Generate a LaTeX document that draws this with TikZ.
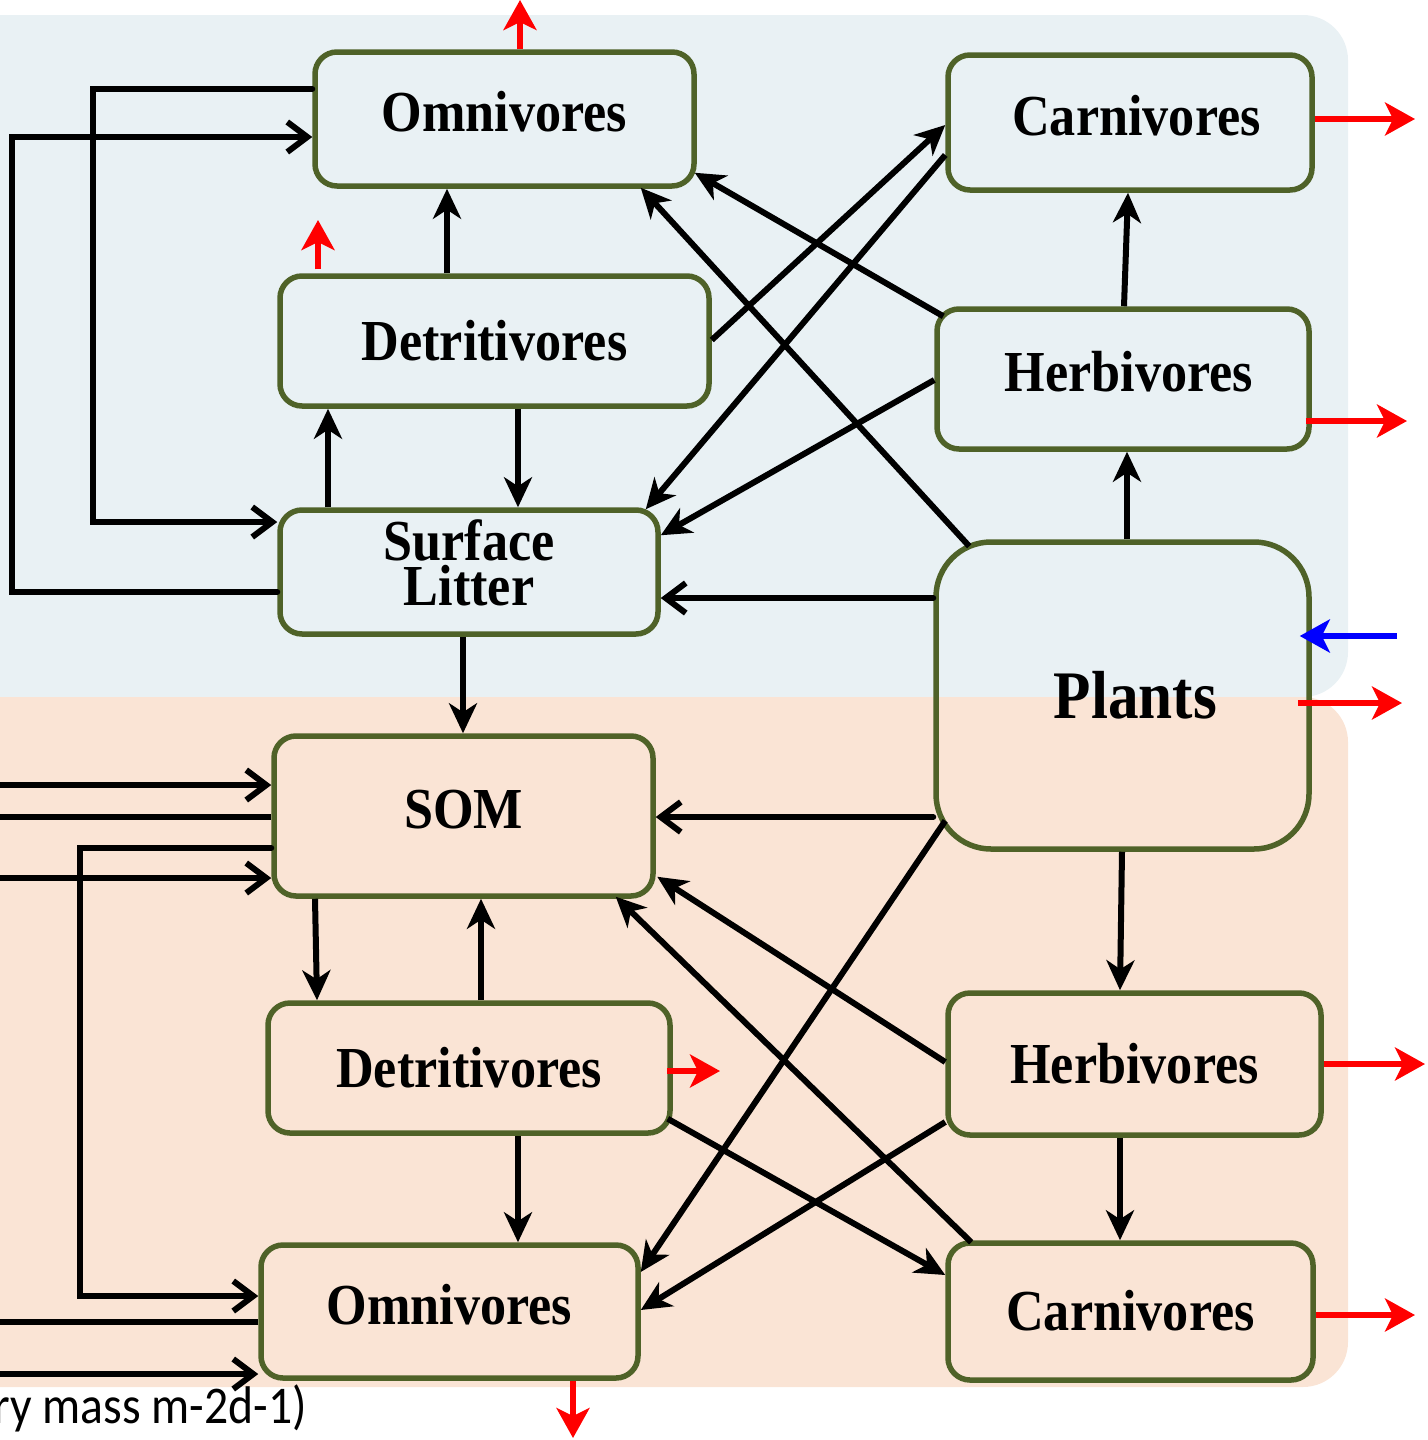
\documentclass[tikz,border=0pt]{standalone}
\usepackage{fontspec}
\newfontfamily\boxfont[FakeStretch=0.9]{Liberation Serif}
\newfontfamily\notefont[FakeStretch=0.9]{Carlito}
\usetikzlibrary{arrows.meta,calc}
\definecolor{upperbg}{HTML}{E9F1F4}
\definecolor{lowerbg}{HTML}{FAE4D5}
\definecolor{boxline}{HTML}{4F6228}

\begin{document}
\begin{tikzpicture}[x=1pt,y=-1pt,
  box/.style={draw=boxline, line width=5.5pt, rounded corners=22pt, inner sep=0pt,
    font=\boxfont\bfseries\fontsize{58}{58}\selectfont, text height=38pt, text depth=0pt},
  lift/.style={text depth=13pt},
  flow/.style={line width=6pt, -{Stealth[length=30pt,width=28pt,inset=9pt]}},
  feed/.style={line width=6pt, line cap=round, -{Straight Barb[length=20pt,width=30pt]}},
  plain/.style={line width=6pt},
  loss/.style={red, line width=6.5pt, -{Stealth[length=30pt,width=33pt,inset=8pt]}},
  gain/.style={blue, line width=6.5pt, -{Stealth[length=30pt,width=33pt,inset=8pt]}}
]
\useasboundingbox (0,0) rectangle (1427,1440);

% compartments: surface (upper) and soil (lower)
\fill[upperbg, rounded corners=45pt] (-60,15) -- (1348,15) -- (1348,697) -- (-60,697) -- cycle;
\fill[lowerbg, rounded corners=45pt] (-60,697) -- (1348,697) -- (1348,1387) -- (-60,1387) -- cycle;

% pools
\node[box, lift, minimum width=379pt, minimum height=134pt] (omT) at (504.5,119) {Omnivores};
\node[box, lift, minimum width=364pt, minimum height=135pt] (carT) at (1130,122.5) {\hspace*{13pt}Carnivores};
\node[box, minimum width=429pt, minimum height=130pt] (detT) at (494.5,341) {Detritivores};
\node[box, lift, minimum width=372pt, minimum height=140pt] (herT) at (1123,379) {\hspace*{12pt}Herbivores};
\node[box, align=center, text height=85pt, text depth=19pt, minimum width=378pt, minimum height=124pt,
      font=\boxfont\bfseries\fontsize{58}{45}\selectfont] (sl) at (469,572) {Surface\\Litter};
\node[box, rounded corners=55pt, minimum width=373pt, minimum height=307pt,
      font=\boxfont\bfseries\fontsize{68}{68}\selectfont, text height=45pt] (pl) at (1122.5,695.5) {\hspace*{26pt}Plants};
\node[box, lift, minimum width=379pt, minimum height=160pt] (som) at (463.5,816) {SOM};
\node[box, minimum width=402pt, minimum height=130pt] (detB) at (469,1068) {Detritivores};
\node[box, minimum width=373pt, minimum height=142pt] (herB) at (1134.5,1064) {Herbivores};
\node[box, lift, minimum width=377pt, minimum height=133pt] (omB) at (449.5,1311.5) {Omnivores};
\node[box, minimum width=365pt, minimum height=137pt] (carB) at (1130.5,1311.5) {Carnivores};

\node[anchor=base east, inner sep=0pt, font=\notefont\fontsize{53}{53}\selectfont] (unit) at (307,1423) {ry mass m-2d-1)};

% free ends of the exchange arrows
\coordinate (xOmT) at (520,0);
\coordinate (xDetT) at (318,220);
\coordinate (xCarT) at (1415,119);
\coordinate (xHerT) at (1407,421);
\coordinate (xPl) at (1402,703);
\coordinate (inPl) at (1397,636);
\coordinate (xDetB) at (720,1071);
\coordinate (xHerB) at (1425,1064);
\coordinate (xCarB) at (1415,1315);
\coordinate (xOmB) at (573,1438);
\coordinate (edgeA) at (0,785);
\coordinate (edgeB) at (0,817);
\coordinate (edgeC) at (0,878);
\coordinate (edgeD) at (0,1322);
\coordinate (edgeE) at (0,1374);

% losses and inputs
\draw[loss] (omT.north -| xOmT) -- (xOmT);
\draw[loss] ($(detT.north -| xDetT)+(0,-4)$) -- (xDetT);
\draw[loss] (carT.east |- xCarT) -- (xCarT);
\draw[loss] ($(herT.east |- xHerT)+(-6,0)$) -- (xHerT);
\draw[loss] ($(pl.east |- xPl)+(-14,0)$) -- (xPl);
\draw[gain] (inPl) -- ($(pl.east |- inPl)+(-12,0)$);
\draw[loss] ($(detB.east |- xDetB)+(-6,0)$) -- (xDetB);
\draw[loss] (herB.east |- xHerB) -- (xHerB);
\draw[loss] (carB.east |- xCarB) -- (xCarB);
\draw[loss] (omB.south -| xOmB) -- (xOmB);

% surface food web
\draw[flow] (detT.north -| 447,0) -- (omT.south -| 447,0);
\draw[flow] (detT.south -| 518,0) -- (sl.north -| 518,0);
\draw[flow] (sl.north -| 328,0) -- (detT.south -| 328,0);
\draw[flow] (sl.south -| 463,0) -- (som.north -| 463,0);
\draw[flow] (detT.east |- 0,340) -- (carT.west |- 0,125);
\draw[flow] (carT.west |- 0,155) -- ($(sl.north east)+(-15,2)$);
\draw[flow] ($(herT.north west)+(9,10)$) -- ($(omT.south east)+(-2,-16)$);
\draw[flow] (herT.west |- 0,380) -- ($(sl.north east)+(0,28)$);
\draw[flow] ($(pl.north west)+(36,7)$) -- ($(omT.south east)+(-56,-1)$);
\draw[flow] (pl.north -| 1127,0) -- (herT.south -| 1127,0);
\draw[flow] (herT.north -| 1124,0) -- (carT.south -| 1128,0);
\draw[feed] (pl.west |- 0,598) -- (sl.east |- 0,598);
\draw[feed] (omT.west |- 0,89) -- (93,89) |- (sl.west |- 0,522);
\draw[feed] (sl.west |- 0,592) -- (12,592) |- (omT.west |- 0,137);

% soil food web
\draw[feed] (pl.west |- 0,817) -- (som.east |- 0,817);
\draw[flow] (pl.south -| 1122,0) -- (herB.north -| 1120,0);
\draw[flow] ($(pl.south west)+(12,-31)$) -- (omB.east |- 0,1272);
\draw[flow] (som.south -| 315,0) -- (detB.north -| 317,0);
\draw[flow] (detB.north -| 481,0) -- (som.south -| 481,0);
\draw[flow] (herB.west |- 0,1062) -- ($(som.south east)+(1.5,-22)$);
\draw[flow] ($(carB.north west)+(26,2)$) -- ($(som.south east)+(-40,-2)$);
\draw[flow] (detB.south -| 518,0) -- (omB.north -| 518,0);
\draw[flow] ($(detB.south east)+(-5,-17)$) -- (carB.west |- 0,1275);
\draw[flow] (herB.west |- 0,1122) -- (omB.east |- 0,1310);
\draw[flow] (herB.south -| 1120,0) -- (carB.north -| 1120,0);

% exchanges with the deeper soil, left margin
\draw[feed] (edgeA) -- (som.west |- edgeA);
\draw[plain] (som.west |- edgeB) -- (edgeB);
\draw[feed] (som.west |- 0,848) -- (80,848) |- (omB.west |- 0,1296);
\draw[feed] (edgeC) -- (som.west |- edgeC);
\draw[plain] (omB.west |- edgeD) -- (edgeD);
\draw[feed] (edgeE) -- (omB.west |- edgeE);
\end{tikzpicture}
\end{document}
